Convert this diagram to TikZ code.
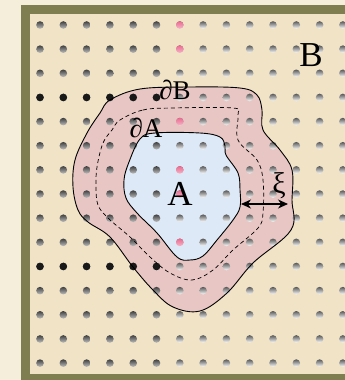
\documentclass[tikz,border=0pt]{standalone}
\usepackage{fontspec}
\setmainfont{Liberation Serif}
\usetikzlibrary{arrows.meta}
\definecolor{fond}{HTML}{F4EEDA}
\definecolor{olive}{HTML}{7E7E50}
\definecolor{sable}{HTML}{F1E3C6}
\definecolor{rose}{HTML}{E8C6C3}
\definecolor{bleu}{HTML}{DDE9F6}
\definecolor{rouge}{HTML}{EC6A90}
\tikzset{
  trou/.style={top color=black!75, bottom color=black!25},
  troupale/.style={top color=black!65, bottom color=white},
  trounoir/.style={fill=black!90},
  trourouge/.style={top color=rouge, bottom color=rouge!50},
  bord/.style={draw=black, line width=0.9pt},
  etiq/.style={inner sep=0pt, font=\fontsize{27}{27}\selectfont},
  grand/.style={inner sep=0pt, font=\fontsize{35}{35}\selectfont}
}
\begin{document}
\begin{tikzpicture}[x=1pt,y=-1pt]
		\useasboundingbox (0,0) rectangle (345,380);
		\clip (0,0) rectangle (345,380);
		% Fond et cadre
		\fill[fond] (0,0) rectangle (345,380);
		\fill[olive] (21,5) rectangle (360,390);
		\fill[sable] (30,14) rectangle (360,374);
		
		% Region B (exterieure)
		\fill[rose] plot[smooth cycle, tension=0.6] coordinates {
			(110,100) (140,89) (190,87) (240,88) (257,95) (262,110) (263,130)
			(280,150) (292,170) (292,200) (291,230) (253,263) (227,293)
			(200,311) (173,307) (153,290) (133,267) (110,237) (88,222)
			(78,210) (73,187) (75,160) (87,133) (100,113)};
		% Region A (interieure)
		\fill[bleu] plot[smooth cycle, tension=0.6] coordinates {
			(140,139) (155,133) (200,133) (220,137) (225,146) (226,155)
			(238,173) (240,190) (240,207) (233,220) (217,240) (203,256)
			(190,260) (177,257) (157,233) (137,213) (126,198) (124,180)
			(129,162)};
		
		% Trous
		\foreach \i in {0,...,13}
			\foreach \j in {0,...,14} {
				\pgfmathsetmacro{\px}{40+23.3*\i}
				\pgfmathsetmacro{\py}{25+24.15*\j}
				\ifnum\i<6
					\shade[trou] (\px,\py) circle (3.8);
				\else
					\shade[troupale] (\px,\py) circle (3.8);
				\fi
			}
		\foreach \i in {0,...,5} {
			\fill[trounoir] ({40+23.3*\i},97.5) circle (3.8);
			\fill[trounoir] ({40+23.3*\i},266.5) circle (3.8);
		}
		\foreach \j in {0,1,4,6,7,9}
			\shade[trourouge] (179.8,{25+24.15*\j}) circle (3.8);
		
		% Contours
		\draw[bord] plot[smooth cycle, tension=0.6] coordinates {
			(110,100) (140,89) (190,87) (240,88) (257,95) (262,110) (263,130)
			(280,150) (292,170) (292,200) (291,230) (253,263) (227,293)
			(200,311) (173,307) (153,290) (133,267) (110,237) (88,222)
			(78,210) (73,187) (75,160) (87,133) (100,113)};
		\draw[bord] plot[smooth cycle, tension=0.6] coordinates {
			(140,139) (155,133) (200,133) (220,137) (225,146) (226,155)
			(238,173) (240,190) (240,207) (233,220) (217,240) (203,256)
			(190,260) (177,257) (157,233) (137,213) (126,198) (124,180)
			(129,162)};
		\draw[black, line width=0.7pt, dash pattern=on 4pt off 3pt]
			plot[smooth cycle, tension=0.6] coordinates {
			(120,120) (143,110) (173,108) (233,108) (238,115) (238,140)
			(257,160) (263,180) (263,213) (258,228) (233,250) (213,270)
			(192,280) (170,273) (150,257) (130,237) (108,218) (98,205)
			(96,187) (97,167) (103,143) (112,130)};
		
		% Etiquettes
		\node[grand] (labB) at (311,55) {B};
		\node[grand] (labA) at (180,194) {A};
		\node[etiq] (delB) at (175,90) {∂B};
		\node[etiq] (delA) at (146,128) {∂A};
		\node[etiq, font=\fontsize{30}{30}\selectfont] (xi) at (279,186) {ξ};
		
		% Epaisseur
		\coordinate (xiA) at (241,204);
		\coordinate (xiB) at (288,204);
		\draw[{Stealth[length=10pt,width=9pt]}-{Stealth[length=10pt,width=9pt]}, line width=1.1pt] (xiA) -- (xiB);
	\end{tikzpicture}
\end{document}
